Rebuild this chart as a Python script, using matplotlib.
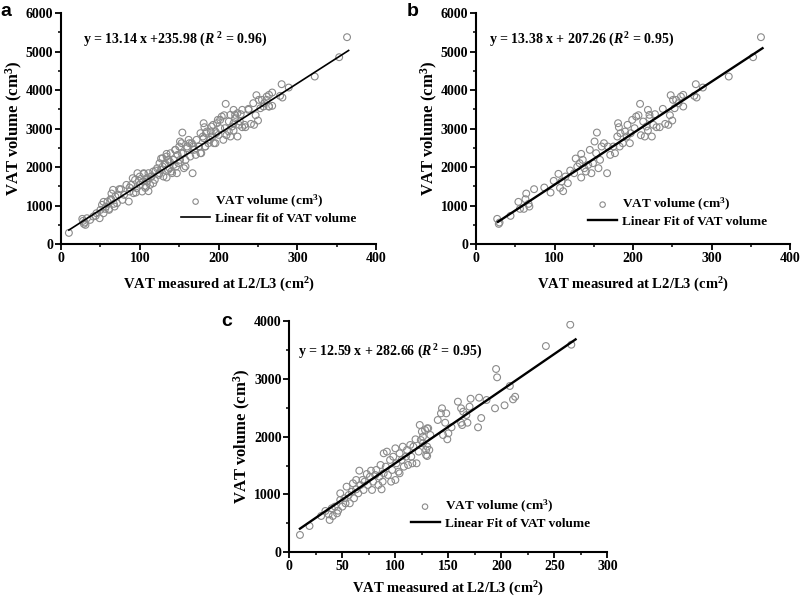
import matplotlib
matplotlib.use("Agg")
import matplotlib.pyplot as plt
from matplotlib.ticker import MultipleLocator

plt.rcParams["font.family"] = ["Liberation Serif", "DejaVu Serif"]
plt.rcParams["font.weight"] = "bold"
plt.rcParams["axes.labelweight"] = "bold"
plt.rcParams["mathtext.fontset"] = "custom"
plt.rcParams["mathtext.rm"] = "Liberation Serif:bold"
plt.rcParams["mathtext.it"] = "Liberation Serif:bold:italic"
plt.rcParams["mathtext.bf"] = "Liberation Serif:bold"

# panel b points (these are also part of panel a)
b_x = [27, 29, 30, 44, 54, 56, 64, 63, 61, 67, 68, 74, 87, 95, 99, 105, 107, 111, 109, 114,
       117, 120, 125, 127, 129, 132, 134, 134, 136, 138, 140, 143, 145, 147, 149, 151, 153, 154, 156, 158,
       160, 163, 167, 168, 171, 175, 177, 180, 181, 182, 183, 184, 187, 190, 192, 193, 196, 197, 199, 202,
       204, 207, 209, 210, 213, 215, 217, 219, 221, 221, 219, 224, 226, 228, 230, 234, 238, 241, 245, 248,
       247, 250, 253, 255, 258, 261, 264, 264, 251, 278, 280, 281, 289, 322, 353, 363]
b_y = [658, 528, 563, 736, 1100, 918, 1316, 1169, 918, 1048, 978, 1429, 1472, 1342, 1645, 1827, 1463, 1377, 1628, 1758,
       1584, 1913, 1844, 2225, 2017, 2104, 2346, 1732, 2190, 1974, 1887, 2060, 2450, 1844, 2104, 2667, 2364, 2900, 1974, 2190,
       2537, 2623, 1844, 2537, 2320, 2537, 2364, 2797, 3143, 3039, 2537, 2883, 2623, 2926, 2797, 3100, 2623, 2883, 3229, 3013,
       3316, 3350, 3645, 2831, 3186, 2797, 3056, 3489, 3359, 3273, 2952, 2797, 3100, 3377, 3039, 3039, 3515, 3125, 3100, 3870,
       3350, 3212, 3532, 3749, 3662, 3835, 3879, 3576, 3749, 3853, 4156, 3810, 4069, 4355, 4857, 5377]

# extra points only in panel a
a_extra_x = [10, 28, 31, 33, 37, 41, 45, 49, 50, 52, 54, 57, 59, 61, 64, 66, 69, 71, 73, 76,
             78, 80, 83, 86, 87, 89, 91, 92, 94, 96, 97, 100, 100, 103, 104, 105, 108, 109, 111, 113,
             115, 117, 119, 122, 124, 125, 127, 129, 130, 132, 134, 136, 138, 139, 141, 143, 145, 146, 148, 150,
             151, 153, 155, 158, 160, 162, 164, 166, 169, 172, 175, 177, 178, 181, 183, 185, 189, 191, 194, 196,
             198, 200, 202, 206, 208, 213, 215, 219, 224, 227, 230, 233, 238, 244, 257, 261, 264, 268, 268]
a_extra_y = [294, 606, 502, 675, 632, 719, 805, 675, 892, 1022, 805, 978, 1108, 892, 1152, 1412, 1238, 1065, 1282, 1429,
             1152, 1282, 1541, 1108, 1368, 1541, 1715, 1325, 1671, 1455, 1845, 1541, 1758, 1368, 1628, 1845, 1498, 1715, 1845, 1541,
             1758, 1888, 1671, 1974, 1801, 2104, 1931, 2234, 1758, 2061, 2277, 1931, 2148, 2364, 1845, 2191, 2450, 2018, 2321, 2537,
             2191, 2624, 2364, 2018, 2494, 2711, 2277, 2624, 2450, 2711, 2537, 2884, 2364, 2754, 2537, 2927, 2711, 3057, 2624, 2927,
             3144, 2840, 3230, 2711, 3014, 2927, 3360, 3144, 3403, 3187, 3490, 3100, 3490, 3663, 3577, 3750, 3577, 3594, 3940]

c_x = [10, 19, 30, 34, 37, 38, 40, 41, 43, 45, 46, 48, 48, 50, 52, 53, 54, 56, 57, 59,
       60, 61, 63, 63, 65, 66, 67, 69, 70, 71, 73, 74, 76, 77, 78, 79, 81, 82, 84, 85,
       86, 87, 88, 89, 89, 91, 92, 93, 95, 96, 97, 98, 100, 100, 101, 103, 104, 104, 106, 107,
       108, 110, 111, 112, 114, 115, 116, 117, 119, 120, 122, 123, 124, 125, 126, 128, 129, 130, 131, 132,
       133, 265, 266, 242, 195, 196, 208, 213, 211, 203, 194, 186, 179, 171, 181, 178, 159, 162, 164, 170,
       167, 162, 168, 163, 144, 143, 148, 140, 147, 153, 145, 150, 149, 130, 126, 129, 130]
c_y = [300, 455, 628, 715, 657, 559, 761, 628, 790, 674, 720, 905, 1020, 790, 934, 847, 1135, 991, 847, 1049,
       1193, 934, 1089, 1251, 1020, 1412, 1164, 1251, 1078, 1222, 1354, 1164, 1308, 1412, 1078, 1222, 1337, 1424, 1164, 1308,
       1510, 1089, 1222, 1712, 1366, 1481, 1741, 1337, 1597, 1222, 1424, 1654, 1251, 1798, 1539, 1395, 1712, 1366, 1597, 1827,
       1481, 1654, 1770, 1510, 1856, 1654, 1539, 1827, 1954, 1539, 1741, 2202, 1942, 2087, 1885, 2115, 1683, 1827, 2144, 1770,
       2029, 3936, 3590, 3567, 3170, 3026, 2876, 2690, 2645, 2542, 2490, 2634, 2674, 2656, 2322, 2161, 2605, 2490, 2432, 2518,
       2374, 2241, 2241, 2201, 2490, 2403, 2403, 2288, 2241, 2161, 2028, 2057, 1954, 2144, 1999, 1769, 1665]

a_x = b_x + a_extra_x
a_y = b_y + a_extra_y

# fit coefficients from the chart labels
a_fit = (13.14, 235.98)
b_fit = (13.38, 207.26)
c_fit = (12.59, 282.66)


def panel(ax, x, y, fit, xrange, xmax, ymax, xstep, ystep, eq, eqpos, fitlabel, legpos, lw, xpad):
    ax.scatter(x, y, s=24, facecolors="none", edgecolors="#8a8a8a", linewidths=0.8,
               label="VAT volume (cm$^3$)", zorder=2)
    xs = list(xrange)
    ax.plot(xs, [fit[0] * v + fit[1] for v in xs], color="black", lw=lw, label=fitlabel, zorder=3)
    ax.set_xlim(0, xmax)
    ax.set_ylim(0, ymax)
    ax.xaxis.set_major_locator(MultipleLocator(xstep))
    ax.xaxis.set_minor_locator(MultipleLocator(xstep / 2))
    ax.yaxis.set_major_locator(MultipleLocator(ystep))
    ax.yaxis.set_minor_locator(MultipleLocator(ystep / 2))
    for s in ["top", "right"]:
        ax.spines[s].set_visible(False)
    for s in ["left", "bottom"]:
        ax.spines[s].set_linewidth(1.5)
    ax.tick_params(which="major", direction="out", length=4, width=1.3, labelsize=10, pad=1.5)
    ax.tick_params(which="minor", direction="out", length=2.5, width=1.1)
    ax.set_xlabel("VAT measured at L2/L3 (cm$^2$)", fontsize=10.5, labelpad=xpad)
    ax.set_ylabel("VAT volume (cm$^3$)", fontsize=12, labelpad=0.5)
    ax.text(eqpos[0], eqpos[1], eq, transform=ax.transAxes, fontsize=10, va="center", ha="left")
    ax.legend(loc="upper left", bbox_to_anchor=legpos, frameon=False, fontsize=9.5,
              borderpad=0, borderaxespad=0, handlelength=2.2, handletextpad=0.4,
              labelspacing=0.2, markerscale=0.8)


fig = plt.figure(figsize=(8, 6), dpi=100)
ax_a = fig.add_axes([0.07625, 0.593, 0.394, 0.385])
ax_b = fig.add_axes([0.595, 0.593, 0.3925, 0.385])
ax_c = fig.add_axes([0.3617, 0.0795, 0.3975, 0.3855])

panel(ax_a, a_x, a_y, a_fit, (10, 365), 400, 6000, 100, 1000,
      "y = 13.14 x +235.98 ($R$ $^2$ = 0.96)", (0.07, 0.883),
      "Linear fit of VAT volume", (0.381, 0.221), 1.2, 8)
panel(ax_b, b_x, b_y, b_fit, (28, 365), 400, 6000, 100, 1000,
      "y = 13.38 x + 207.26 ($R^2$ = 0.95)", (0.041, 0.883),
      "Linear Fit of VAT volume", (0.357, 0.208), 1.7, 8)
panel(ax_c, c_x, c_y, c_fit, (10, 270), 300, 4000, 50, 1000,
      "y = 12.59 x + 282.66 ($R^2$ = 0.95)", (0.028, 0.866),
      "Linear Fit of VAT volume", (0.381, 0.234), 1.7, 5)

for lab, px, py in [("a", 0.0, 0.995), ("b", 0.508, 0.995), ("c", 0.277, 0.478)]:
    fig.text(px, py, lab, fontsize=14, fontweight="bold", family=["Liberation Sans", "DejaVu Sans"],
             va="top", ha="left")

fig.savefig("out.png", dpi=100)
